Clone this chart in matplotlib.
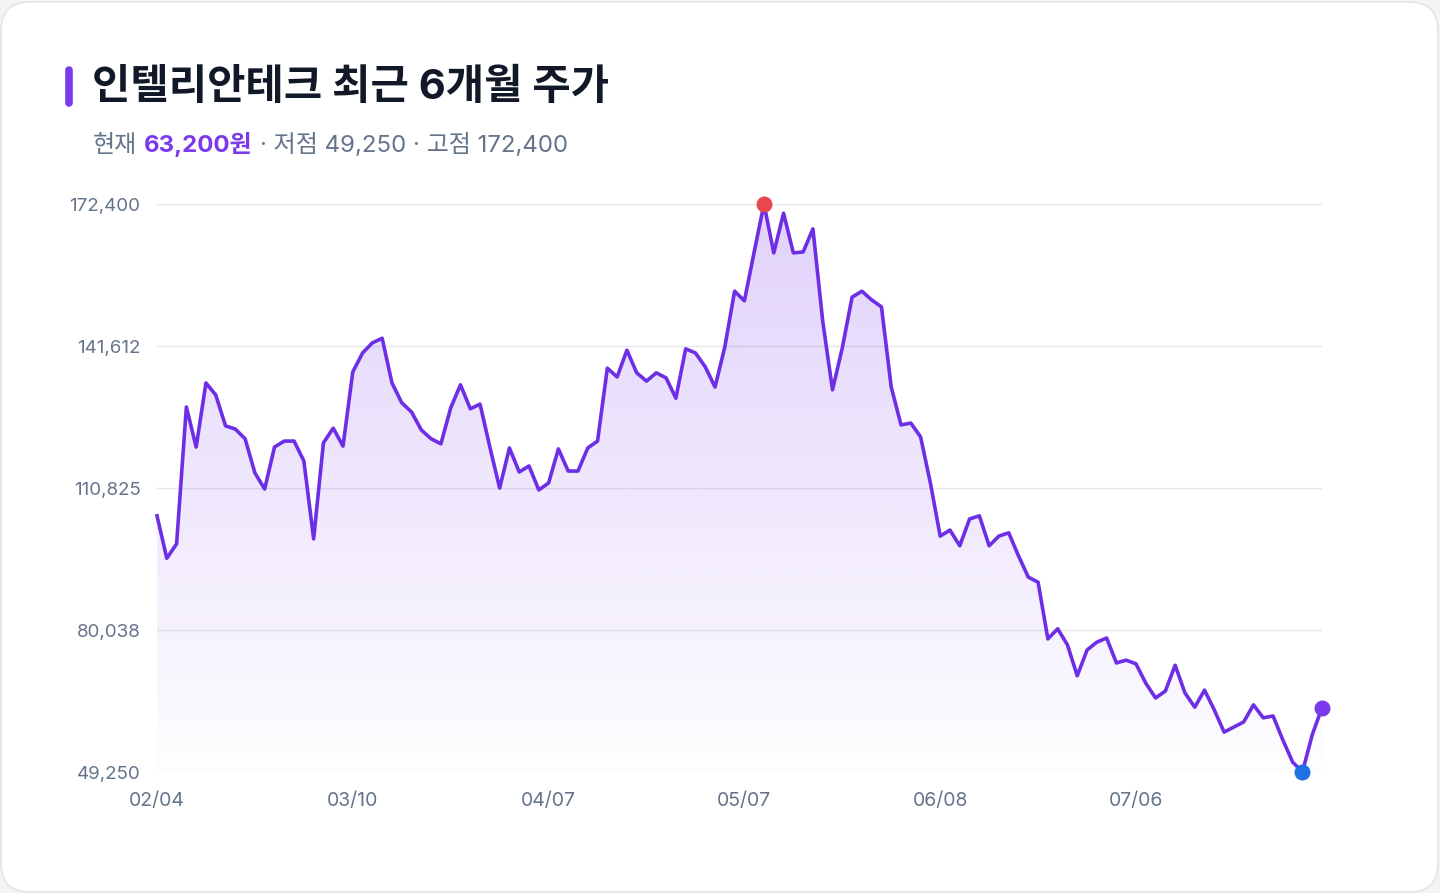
import numpy as np
import matplotlib.pyplot as plt
from matplotlib.patches import FancyBboxPatch, Polygon
from matplotlib.lines import Line2D

# 일별 종가 (원), 120 거래일
price = [
    104800, 95600, 98700, 128400, 119700, 133600, 131000, 124300, 123600, 121500,
    114100, 110600, 119700, 121000, 121000, 116700, 99800, 120600, 123800, 119900,
    136000, 140100, 142300, 143300, 133600, 129300, 127300, 123400, 121500, 120400,
    128200, 133200, 128000, 129000, 119700, 110800, 119500, 114300, 115600, 110400,
    111900, 119300, 114500, 114500, 119500, 121000, 136800, 134900, 140700, 135800,
    134000, 135800, 134700, 130300, 141000, 140100, 137100, 132700, 141400, 153500,
    151400, 162000, 172400, 161800, 170400, 161800, 162000, 167000, 147000, 132100,
    141200, 152200, 153500, 151600, 150100, 132700, 124500, 124900, 121900, 111900,
    100400, 101700, 98300, 104100, 104800, 98300, 100400, 101100, 96100, 91500,
    90400, 78100, 80300, 76800, 70100, 75700, 77400, 78300, 72900, 73500,
    72700, 68500, 65300, 66800, 72400, 66400, 63300, 67000, 62700, 57900,
    59000, 60100, 63800, 61000, 61400, 56200, 51400, 49250, 57300, 63200,
]
x_tick_idx = [0, 20, 40, 60, 80, 100]
x_tick_labels = ['02/04', '03/10', '04/07', '05/07', '06/08', '07/06']
y_ticks = [49250, 80037.5, 110825, 141612.5, 172400]
y_tick_labels = ['49,250', '80,038', '110,825', '141,612', '172,400']

title = '인텔리안테크 최근 6개월 주가'
sub_now_label = '현재'
sub_now_value = '63,200원'
sub_rest = '· 저점 49,250 · 고점 172,400'

PURPLE = '#7c3aed'
LINE = '#6d2ee6'
GRAY = '#64748b'

plt.rcParams['font.family'] = ['Inter', 'Noto Sans CJK KR', 'DejaVu Sans']

W, H = 1440, 893
fig = plt.figure(figsize=(W / 100, H / 100), dpi=100)
fig.patch.set_facecolor('#f3f4f6')

# card background
card = FancyBboxPatch((1 / W, 1 / H), 1 - 3 / W, 1 - 3 / H,
                      boxstyle='round,pad=0,rounding_size=0.02',
                      mutation_aspect=W / H, transform=fig.transFigure,
                      facecolor='white', edgecolor='#e3e5ea', lw=1.2, zorder=0)
fig.add_artist(card)

# title + accent bar
fig.add_artist(Line2D([69 / W, 69 / W], [1 - 70 / H, 1 - 103 / H], transform=fig.transFigure,
                      color=PURPLE, lw=5.5, solid_capstyle='round'))
fig.text(92 / W, 1 - 87 / H, title, fontsize=30, fontweight='bold', color='#111827',
         va='center', ha='left')

ax = fig.add_axes([157 / W, 1 - 772 / H, (1322 - 157) / W, (772 - 204) / H])
ax.set_facecolor('none')

# subtitle, pieces chained left to right
t1 = fig.text(93 / W, 1 - 157 / H, sub_now_label, fontsize=17.3, color=GRAY, va='bottom', ha='left')
t2 = ax.annotate(sub_now_value, xy=(1, 0), xycoords=t1, xytext=(5, 0), textcoords='offset points',
                 fontsize=17.3, fontweight='bold', color=PURPLE, va='bottom', ha='left',
                 annotation_clip=False)
t3 = ax.annotate(sub_rest, xy=(1, 0), xycoords=t2, xytext=(5, 0), textcoords='offset points',
                 fontsize=17.3, color=GRAY, va='bottom', ha='left', annotation_clip=False)

x = np.arange(len(price))
ymin, ymax = y_ticks[0], y_ticks[-1]
ax.set_xlim(0, len(price) - 1)
ax.set_ylim(ymin, ymax)

# gradient area under the line
verts = [(0, ymin)] + list(zip(x, price)) + [(x[-1], ymin)]
poly = Polygon(verts, closed=True, facecolor='none', edgecolor='none')
ax.add_patch(poly)
grad = np.zeros((256, 1, 4))
grad[..., 0], grad[..., 1], grad[..., 2] = 124 / 255, 58 / 255, 237 / 255
grad[..., 3] = np.linspace(0.01, 0.23, 256)[:, None]
im = ax.imshow(grad, extent=[0, x[-1], ymin, ymax], origin='lower', aspect='auto', zorder=1)
im.set_clip_path(poly)

ax.plot(x, price, color=LINE, lw=2.6, zorder=3, clip_on=False, solid_joinstyle='round')

i_hi = int(np.argmax(price))
i_lo = int(np.argmin(price))
ax.plot(i_hi, price[i_hi], 'o', color='#e5484d', ms=10.5, zorder=4, clip_on=False)
ax.plot(i_lo, price[i_lo], 'o', color='#1f6fe5', ms=10.5, zorder=4, clip_on=False)
ax.plot(x[-1], price[-1], 'o', color=PURPLE, ms=10.5, zorder=4, clip_on=False)

ax.set_yticks(y_ticks, y_tick_labels)
ax.set_xticks(x_tick_idx, x_tick_labels)
ax.grid(axis='y', color='#e5e7eb', lw=1)
ax.set_axisbelow(True)
for s in ax.spines.values():
    s.set_visible(False)
ax.tick_params(axis='y', length=0, pad=12, labelsize=13.5, labelcolor=GRAY)
ax.tick_params(axis='x', length=0, pad=14.5, labelsize=14, labelcolor=GRAY)

fig.savefig('out.png', dpi=100, facecolor=fig.get_facecolor())
